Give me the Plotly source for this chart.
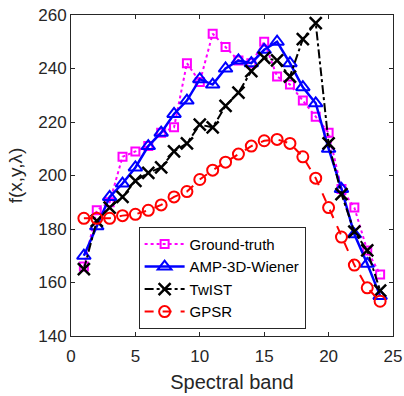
import plotly.graph_objects as go

bands = list(range(1, 25))
ground_truth = [166, 187, 190, 207, 209, 211, 216, 218, 242, 235, 253, 248, 243, 242, 250, 237, 234, 228, 222, 216, 195, 188, 172, 163]
amp_3d_wiener = [170, 181, 192, 197, 203, 211, 216, 223, 228, 236, 234, 240, 243, 242, 247, 250, 242, 233, 227, 210, 195, 178, 167, 155]
twist = [165, 183, 188, 192, 198, 201, 203, 209, 212, 219, 218, 226, 231, 239, 244, 243, 237, 251, 257, 212, 193, 179, 172, 157]
gpsr = [184, 184, 184, 185, 185.5, 187, 189, 192, 194, 198.5, 202, 205, 208, 211, 213, 213.5, 212, 207, 199, 188, 177, 166.5, 158, 153]

x_ticks = [0, 5, 10, 15, 20, 25]
y_ticks = [140, 160, 180, 200, 220, 240, 260]

FONT = "Liberation Sans, Arial, sans-serif"
AX = "#262626"

fig = go.Figure()
fig.add_trace(go.Scatter(
    x=bands, y=ground_truth, name="Ground-truth", mode="lines+markers",
    line=dict(color="#FF00FF", width=2, dash="dot"),
    marker=dict(symbol="square-open", size=8, color="#FF00FF", line=dict(width=2, color="#FF00FF"))))
fig.add_trace(go.Scatter(
    x=bands, y=amp_3d_wiener, name="AMP-3D-Wiener", mode="lines+markers",
    line=dict(color="#0000FF", width=2.5),
    marker=dict(symbol="triangle-up-open", size=12, color="#0000FF", line=dict(width=2, color="#0000FF"))))
fig.add_trace(go.Scatter(
    x=bands, y=twist, name="TwIST", mode="lines+markers",
    line=dict(color="#000000", width=2, dash="dashdot"),
    marker=dict(symbol="x-thin-open", size=12, color="#000000", line=dict(width=2.5, color="#000000"))))
fig.add_trace(go.Scatter(
    x=bands, y=gpsr, name="GPSR", mode="lines+markers",
    line=dict(color="#FF0000", width=2, dash="dash"),
    marker=dict(symbol="circle-open", size=11, color="#FF0000", line=dict(width=2, color="#FF0000"))))

axis_common = dict(showline=True, linecolor=AX, linewidth=1, mirror="allticks",
                   ticks="inside", ticklen=4, tickcolor=AX, showgrid=False, zeroline=False,
                   automargin=False,
                   tickfont=dict(family=FONT, size=17, color=AX))
fig.update_xaxes(range=[0, 25], tickvals=x_ticks, ticklabelstandoff=5,
                 title=dict(text="Spectral band", font=dict(family=FONT, size=20, color=AX), standoff=9),
                 **axis_common)
fig.update_yaxes(range=[140, 260], tickvals=y_ticks,
                 title=dict(text="f(x,y,λ)", font=dict(family=FONT, size=19, color=AX), standoff=10),
                 **axis_common)

fig.update_layout(
    width=404, height=396,
    margin=dict(l=71, r=11, t=15, b=60),
    paper_bgcolor="white", plot_bgcolor="white",
    font=dict(family=FONT, size=16, color=AX),
    legend=dict(x=0.21, y=0.34, xanchor="left", yanchor="top",
                bgcolor="white", bordercolor=AX, borderwidth=1,
                font=dict(family=FONT, size=15, color="#000000"),
                tracegroupgap=0, itemwidth=40),
    showlegend=True,
)

fig.write_html("out.html", config={"displayModeBar": False},
               post_script="document.body.style.margin='0';document.body.style.overflow='hidden';")
